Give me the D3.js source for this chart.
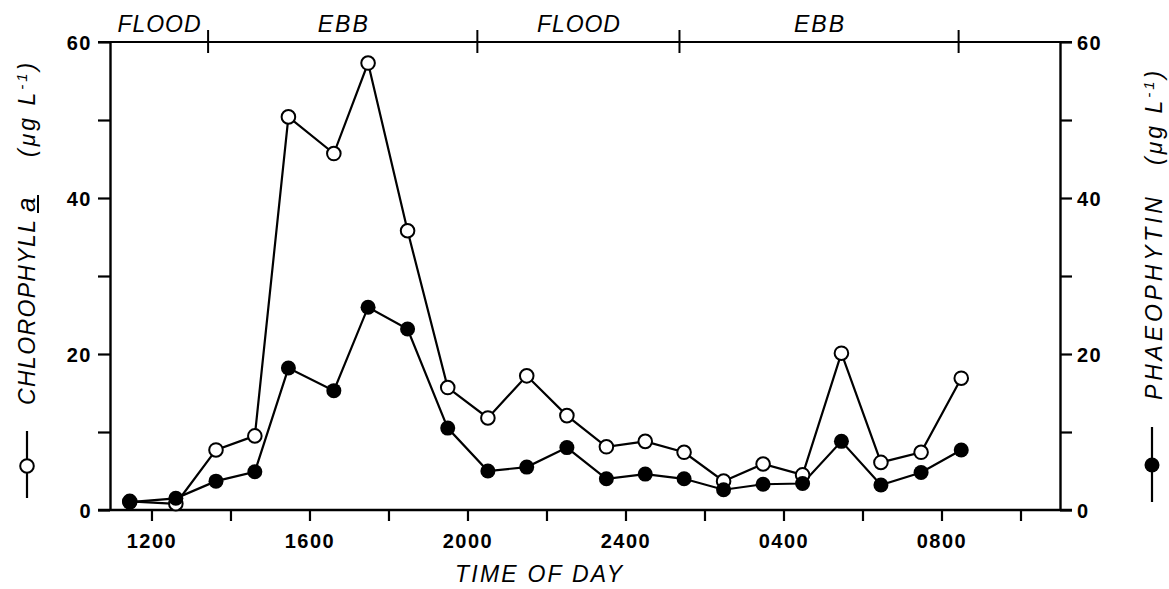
<!DOCTYPE html>
<html><head><meta charset="utf-8">
<script src="https://cdn.jsdelivr.net/npm/d3@7"></script>
<style>body{margin:0;background:#fff}</style>
</head><body>
<svg id="c" width="1169" height="589"></svg>
<script>
// ---- data ----
const sampleTimes = ["1127","1237","1338","1437","1528","1637","1729","1829","1930","2031","2130","2231","2331","0030","0129","0229","0329","0429","0528","0628","0729","0830"];
const chlorophyll = [1.1, 0.8, 7.7, 9.5, 50.4, 45.7, 57.3, 35.8, 15.7, 11.8, 17.2, 12.1, 8.1, 8.8, 7.4, 3.7, 5.9, 4.5, 20.1, 6.1, 7.4, 16.9];
const phaeophytin = [1.0, 1.5, 3.7, 4.9, 18.2, 15.3, 26.0, 23.2, 10.5, 5.0, 5.5, 8.0, 4.0, 4.6, 4.0, 2.6, 3.3, 3.4, 8.8, 3.2, 4.8, 7.7];
const yTicks = [0, 10, 20, 30, 40, 50, 60];
const yTickLabels = [0, 20, 40, 60];
const xTickTimes = ["1200","1400","1600","1800","2000","2200","2400","0200","0400","0600","0800","1000"];
const xTickLabels = ["1200","1600","2000","2400","0400","0800"];
const tideBoundaries = ["1326","2015","0122","0826"];
const tideLabels = ["FLOOD","EBB","FLOOD","EBB"];

// hours after 1200 on day one
function hrs(s){ let h = +s.slice(0,2) + (+s.slice(2))/60 - 12; if (h < -1.5) h += 24; return h; }

const svg = d3.select("#c");
const FONT = "Liberation Sans, Arial, sans-serif";
const x = d3.scaleLinear().domain([-1.05, 23]).range([110, 1060]);
const y = d3.scaleLinear().domain([0, 60]).range([510, 42]);
const [x0, x1] = x.range();
const [yb, yt] = y.range();
const TK = 12;

// frame lines (top and bottom extend over the outer ticks)
svg.append("line").attr("x1", x0 - TK).attr("x2", x1 + TK).attr("y1", yt).attr("y2", yt)
  .attr("stroke", "#000").attr("stroke-width", 2.2);
svg.append("line").attr("x1", x0 - TK).attr("x2", x1 + TK).attr("y1", yb).attr("y2", yb)
  .attr("stroke", "#000").attr("stroke-width", 2.4);

function styleAxis(g){
  g.select(".domain").attr("stroke-width", 2.4);
  g.selectAll(".tick line").attr("stroke-width", 2.2);
  g.selectAll(".tick text").attr("font-family", FONT).attr("font-weight", "bold")
    .attr("font-size", 20).attr("fill", "#000").attr("letter-spacing", 1.5);
}
const fmtY = d => yTickLabels.includes(d) ? d : "";
svg.append("g").attr("transform", `translate(${x0},0)`)
  .call(d3.axisLeft(y).tickValues(yTicks).tickSize(TK).tickSizeOuter(0).tickPadding(6).tickFormat(fmtY))
  .call(styleAxis).call(g => g.selectAll(".tick text").attr("dy", "0.36em"));
svg.append("g").attr("transform", `translate(${x1},0)`)
  .call(d3.axisRight(y).tickValues(yTicks).tickSize(TK).tickSizeOuter(0).tickPadding(5).tickFormat(fmtY))
  .call(styleAxis).call(g => g.selectAll(".tick text").attr("dy", "0.36em"));

const bottom = svg.append("g").attr("transform", `translate(0,${yb})`)
  .call(d3.axisBottom(x).tickValues(xTickTimes.map(hrs)).tickSize(11).tickSizeOuter(0).tickPadding(13)
    .tickFormat((d, i) => xTickLabels.includes(xTickTimes[i]) ? xTickTimes[i] : ""))
  .call(styleAxis);
bottom.select(".domain").remove();
bottom.selectAll(".tick text").attr("dy", "0.71em");

// tide boundaries and labels
const bx = tideBoundaries.map(t => x(hrs(t)));
svg.selectAll(".tide").data(bx).join("line").attr("class", "tide")
  .attr("x1", d => d).attr("x2", d => d).attr("y1", yt - 12).attr("y2", yt + 11)
  .attr("stroke", "#000").attr("stroke-width", 2);
const segStarts = [x0, ...bx.slice(0, 3)];
tideLabels.forEach((lab, i) => {
  const cx = (segStarts[i] + bx[i]) / 2;
  const w = lab.length === 5 ? 83 : 50;
  svg.append("text").attr("x", cx - w / 2).attr("y", 32).attr("textLength", w).attr("lengthAdjust", "spacing")
    .attr("font-family", FONT).attr("font-style", "italic").attr("font-size", 23).text(lab);
});

// x title
svg.append("text").attr("x", 455).attr("y", 582).attr("textLength", 167).attr("lengthAdjust", "spacing")
  .attr("font-family", FONT).attr("font-style", "italic").attr("font-size", 23).text("TIME OF DAY");

// series
const pts = a => a.map((v, i) => [hrs(sampleTimes[i]), v]);
const line = d3.line().x(d => x(d[0])).y(d => y(d[1]));
svg.append("path").attr("d", line(pts(chlorophyll))).attr("fill", "none").attr("stroke", "#000").attr("stroke-width", 2.2);
svg.append("path").attr("d", line(pts(phaeophytin))).attr("fill", "none").attr("stroke", "#000").attr("stroke-width", 2.2);
svg.selectAll(".chl").data(pts(chlorophyll)).join("circle").attr("class", "chl")
  .attr("cx", d => x(d[0])).attr("cy", d => y(d[1])).attr("r", 6.8)
  .attr("fill", "#fff").attr("stroke", "#000").attr("stroke-width", 2);
svg.selectAll(".pha").data(pts(phaeophytin)).join("circle").attr("class", "pha")
  .attr("cx", d => x(d[0])).attr("cy", d => y(d[1])).attr("r", 7.5).attr("fill", "#000");

// left y title
const lg = svg.append("g").attr("transform", "translate(35,0) rotate(-90)")
  .attr("font-family", FONT).attr("font-style", "italic");
lg.append("text").attr("x", -405).attr("y", 0).attr("textLength", 185).attr("lengthAdjust", "spacing")
  .attr("font-size", 23).text("CHLOROPHYLL");
lg.append("text").attr("x", -212).attr("y", 0).attr("font-size", 26).text("a");
lg.append("line").attr("x1", -213).attr("x2", -195).attr("y1", 3).attr("y2", 3).attr("stroke", "#000").attr("stroke-width", 2);
const lu = lg.append("text").attr("x", -157).attr("y", 0).attr("font-size", 23).attr("letter-spacing", 3);
lu.append("tspan").text("(\u03BCg L");
lu.append("tspan").attr("dy", -8).attr("font-size", 15).text("-1");
lu.append("tspan").attr("dy", 8).text(")");

// right y title
const rg = svg.append("g").attr("transform", "translate(1162,0) rotate(-90)")
  .attr("font-family", FONT).attr("font-style", "italic");
rg.append("text").attr("x", -400).attr("y", 0).attr("textLength", 203).attr("lengthAdjust", "spacing")
  .attr("font-size", 23).text("PHAEOPHYTIN");
const ru = rg.append("text").attr("x", -165).attr("y", 0).attr("font-size", 23).attr("letter-spacing", 3);
ru.append("tspan").text("(\u03BCg L");
ru.append("tspan").attr("dy", -8).attr("font-size", 15).text("-1");
ru.append("tspan").attr("dy", 8).text(")");

// legend keys
svg.append("line").attr("x1", 27).attr("x2", 27).attr("y1", 431).attr("y2", 498).attr("stroke", "#000").attr("stroke-width", 2.2);
svg.append("circle").attr("cx", 27).attr("cy", 466).attr("r", 6.8).attr("fill", "#fff").attr("stroke", "#000").attr("stroke-width", 2);
svg.append("line").attr("x1", 1152).attr("x2", 1152).attr("y1", 427).attr("y2", 502).attr("stroke", "#000").attr("stroke-width", 2.2);
svg.append("circle").attr("cx", 1152).attr("cy", 465).attr("r", 7.5).attr("fill", "#000");
</script>
</body></html>
